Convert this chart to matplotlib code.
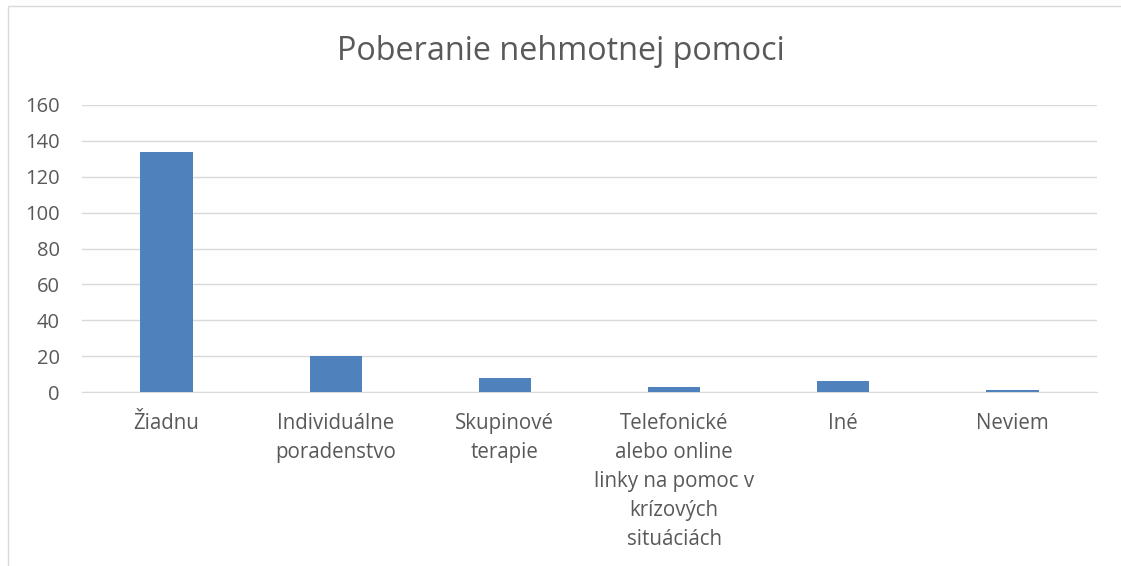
import matplotlib.pyplot as plt
from matplotlib.patches import Rectangle

plt.rcParams['font.family'] = ['Open Sans', 'DejaVu Sans']

# data
categories = ["Žiadnu", "Individuálne\nporadenstvo", "Skupinové\nterapie",
              "Telefonické\nalebo online\nlinky na pomoc v\nkrízových\nsituáciách",
              "Iné", "Neviem"]
values = [134, 20, 8, 3, 6, 1]
yticks = [0, 20, 40, 60, 80, 100, 120, 140, 160]

text_col = "#595959"

fig = plt.figure(figsize=(11.21, 5.66), dpi=100)
ax = fig.add_axes([82 / 1121, 1 - 392 / 566, (1097 - 82) / 1121, (392 - 105) / 566])

x = list(range(len(categories)))
ax.bar(x, values, width=0.31, color="#4F81BD", zorder=3)

ax.set_xlim(-0.5, len(categories) - 0.5)
ax.set_ylim(0, 160)
ax.set_yticks(yticks)
ax.set_xticks(x)
ax.set_xticklabels(categories, fontsize=14.8, color=text_col, linespacing=1.5, va="top")
ax.tick_params(axis="y", labelsize=14.5, labelcolor=text_col, length=0, pad=16)
ax.tick_params(axis="x", length=0, pad=15)

ax.grid(axis="y", color="#D9D9D9", linewidth=1, zorder=0)
for s in ["top", "right", "left"]:
    ax.spines[s].set_visible(False)
ax.spines["bottom"].set_color("#D9D9D9")
ax.spines["bottom"].set_zorder(0)

fig.text(0.5, 1 - 52 / 566, "Poberanie nehmotnej pomoci", ha="center", va="center",
         fontsize=23.3, color=text_col)

# chart area border
fig.patches.append(Rectangle((8 / 1121, -0.01), 1.1, 1 - 6 / 566 + 0.01,
                             transform=fig.transFigure, fill=False,
                             edgecolor="#D9D9D9", linewidth=1))

fig.savefig("out.png", dpi=100)
